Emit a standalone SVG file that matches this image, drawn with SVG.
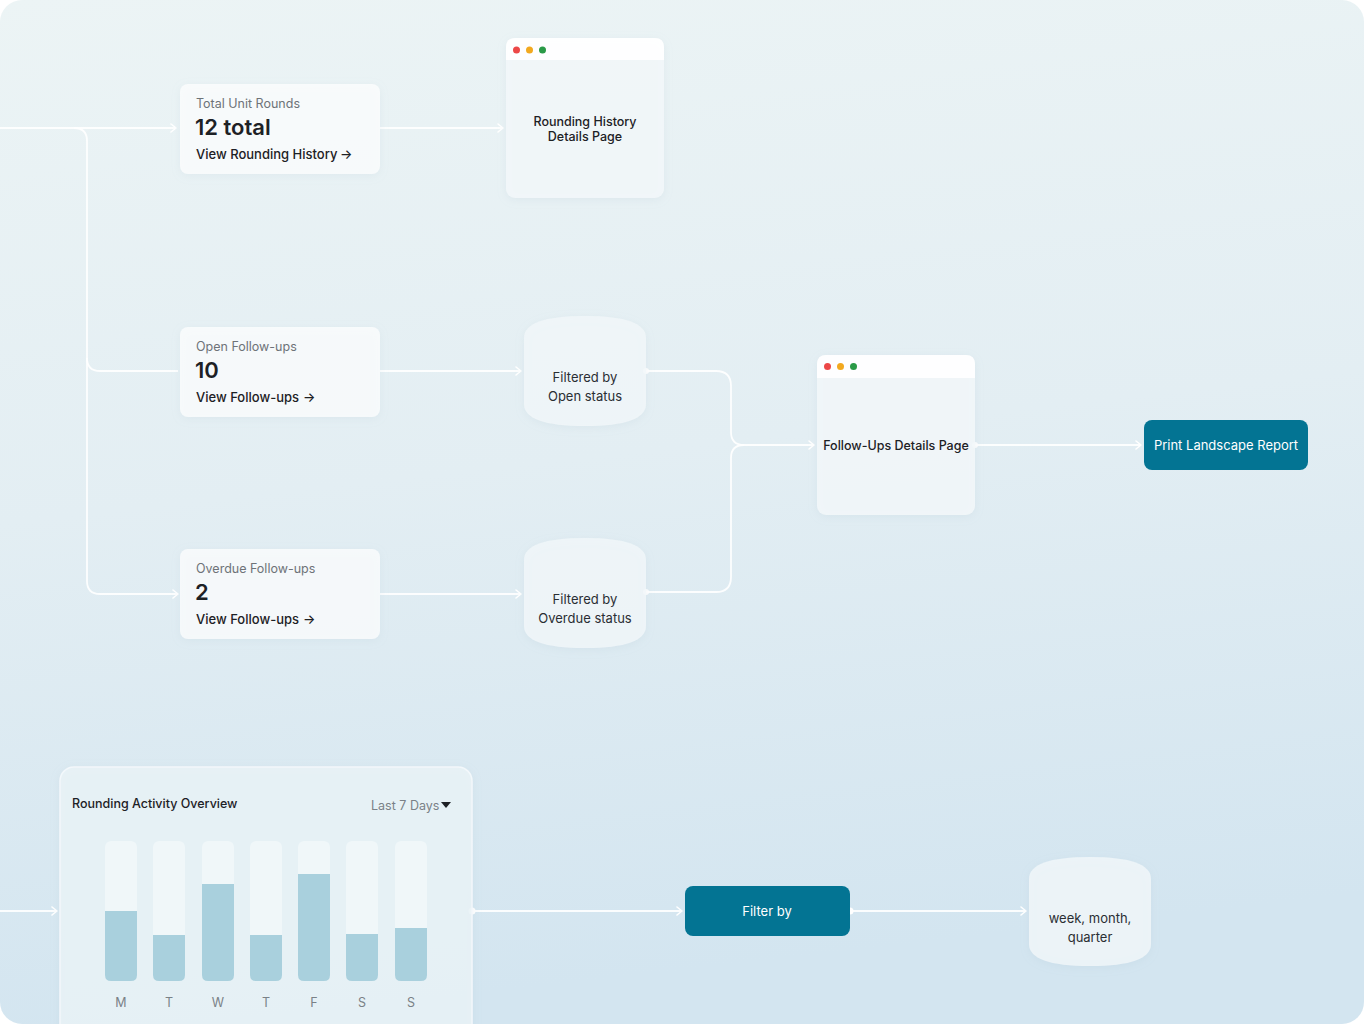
<svg xmlns="http://www.w3.org/2000/svg" width="1364" height="1024" viewBox="0 0 1364 1024">
<defs>
<linearGradient id="bg" x1="0" y1="0" x2="0.15" y2="1">
<stop offset="0" stop-color="#ecf4f5"/>
<stop offset="0.5" stop-color="#e3eef3"/>
<stop offset="1" stop-color="#d3e5f0"/>
</linearGradient>
<filter id="sh" x="-20%" y="-20%" width="140%" height="150%">
<feDropShadow dx="0" dy="2" stdDeviation="4" flood-color="#9fb8c6" flood-opacity="0.18"/>
</filter>
<marker id="arr" markerWidth="10" markerHeight="10" refX="7" refY="5" orient="auto" markerUnits="userSpaceOnUse">
<path d="M2,1 L7,5 L2,9" fill="none" stroke="#ffffff" stroke-width="1.6" stroke-linecap="round" stroke-linejoin="round"/>
</marker>
</defs>
<style>
text{font-family:Inter,"Noto Sans","Liberation Sans",sans-serif;}
.conn{fill:none;stroke:#ffffff;stroke-opacity:0.9;stroke-width:1.8;}
.card{fill:#ffffff;fill-opacity:0.72;filter:url(#sh);}
.lbl{font-size:12.5px;fill:#6e7378;}
.big{font-size:22px;font-weight:600;fill:#1d2125;}
.link{font-size:13px;font-weight:500;fill:#1d2125;}
.ar{font-size:13px;fill:#1d2125;}
.win{fill:#f3f8fa;fill-opacity:0.85;filter:url(#sh);}
.winhead{fill:#ffffff;fill-opacity:0.9;}
.wt{font-size:12.5px;font-weight:500;fill:#1d2125;text-anchor:middle;}
.cyl{fill:#f3f8fa;fill-opacity:0.8;filter:url(#sh);}
.ct{font-size:13px;fill:#2a2e33;text-anchor:middle;}
.btn{fill:#037493;}
.bt{font-size:13px;fill:#ffffff;text-anchor:middle;}
.track{fill:#f1f7fa;fill-opacity:0.9;}
.bar{fill:#a9d0dd;}
.day{font-size:12.5px;fill:#7a8187;text-anchor:middle;}
</style>
<rect x="0" y="0" width="1364" height="1024" fill="#ffffff"/>
<rect x="0" y="0" width="1364" height="1024" rx="22" fill="url(#bg)"/>

<g id="connectors">
<path class="conn" d="M0,128 H176" marker-end="url(#arr)"/>
<path class="conn" d="M74,128 Q87,128 87,141 V581 Q87,594 100,594 H178" marker-end="url(#arr)"/>
<path class="conn" d="M87,358 Q87,371 100,371 H178"/>
<path class="conn" d="M380,128 H503" marker-end="url(#arr)"/>
<path class="conn" d="M380,371 H521" marker-end="url(#arr)"/>
<path class="conn" d="M380,594 H521" marker-end="url(#arr)"/>
<path class="conn" d="M646,371 H716 Q731,371 731,386 V432 Q731,445 744,445 H814" marker-end="url(#arr)"/>
<path class="conn" d="M646,592 H716 Q731,592 731,577 V458 Q731,445 744,445"/>
<path class="conn" d="M975,445 H1141" marker-end="url(#arr)"/>
<path class="conn" d="M0,911 H57" marker-end="url(#arr)"/>
<path class="conn" d="M472,911 H682" marker-end="url(#arr)"/>
<path class="conn" d="M850,911 H1026" marker-end="url(#arr)"/>
<circle cx="472" cy="911" r="3.5" fill="#ffffff"/>
<circle cx="850" cy="911" r="3.5" fill="#ffffff"/>
<circle cx="646" cy="371" r="3" fill="#ffffff" fill-opacity="0.9"/>
<circle cx="646" cy="592" r="3" fill="#ffffff" fill-opacity="0.9"/>
<circle cx="975" cy="445" r="3" fill="#ffffff" fill-opacity="0.9"/>
</g>

<g id="card-total">
<rect class="card" x="180" y="84" width="200" height="90" rx="8"/>
<text class="lbl" x="196" y="108">Total Unit Rounds</text>
<text class="big" x="195" y="135">12 total</text>
<text class="link" x="196" y="159">View Rounding History <tspan class="ar" x="340">→</tspan></text>
</g>

<g id="win-rounding-history">
<rect class="win" x="506" y="38" width="158" height="160" rx="9"/>
<path class="winhead" d="M506,60 V47 Q506,38 515,38 H655 Q664,38 664,47 V60 Z"/>
<circle cx="516.5" cy="50" r="3.5" fill="#ec4747"/>
<circle cx="529.5" cy="50" r="3.5" fill="#f2a91f"/>
<circle cx="542.5" cy="50" r="3.5" fill="#2a9a47"/>
<text class="wt" x="585" y="126">Rounding History</text>
<text class="wt" x="585" y="141">Details Page</text>
</g>

<g id="card-open">
<rect class="card" x="180" y="327" width="200" height="90" rx="8"/>
<text class="lbl" x="196" y="351">Open Follow-ups</text>
<text class="big" x="195" y="378">10</text>
<text class="link" x="196" y="402">View Follow-ups <tspan class="ar" x="303">→</tspan></text>
</g>

<g id="cyl-open">
<path class="cyl" d="M524,338 Q524,316 585,316 Q646,316 646,338 V404 Q646,426 585,426 Q524,426 524,404 Z"/>
<text class="ct" x="585" y="382">Filtered by</text>
<text class="ct" x="585" y="401">Open status</text>
</g>

<g id="card-overdue">
<rect class="card" x="180" y="549" width="200" height="90" rx="8"/>
<text class="lbl" x="196" y="573">Overdue Follow-ups</text>
<text class="big" x="195" y="600">2</text>
<text class="link" x="196" y="624">View Follow-ups <tspan class="ar" x="303">→</tspan></text>
</g>

<g id="cyl-overdue">
<path class="cyl" d="M524,560 Q524,538 585,538 Q646,538 646,560 V626 Q646,648 585,648 Q524,648 524,626 Z"/>
<text class="ct" x="585" y="604">Filtered by</text>
<text class="ct" x="585" y="623">Overdue status</text>
</g>

<g id="win-followups">
<rect class="win" x="817" y="355" width="158" height="160" rx="9"/>
<path class="winhead" d="M817,378 V364 Q817,355 826,355 H966 Q975,355 975,364 V378 Z"/>
<circle cx="827.5" cy="366.5" r="3.5" fill="#ec4747"/>
<circle cx="840.5" cy="366.5" r="3.5" fill="#f2a91f"/>
<circle cx="853.5" cy="366.5" r="3.5" fill="#2a9a47"/>
<text class="wt" x="896" y="450">Follow-Ups Details Page</text>
</g>

<g id="btn-print">
<rect class="btn" x="1144" y="420" width="164" height="50" rx="8"/>
<text class="bt" x="1226" y="450">Print Landscape Report</text>
</g>

<g id="chart">
<rect x="60" y="767" width="412" height="280" rx="14" fill="#eaf3f7" fill-opacity="0.85" stroke="#f3f8fb" stroke-width="1.5" filter="url(#sh)"/>
<text x="72" y="808" style="font-size:12.5px;font-weight:500;fill:#1d2125">Rounding Activity Overview</text>
<text x="371" y="810" style="font-size:12.5px;fill:#7a8187">Last 7 Days</text>
<path d="M441,802 H451 L446,808 Z" fill="#1d2125"/>
<rect class="track" x="105" y="841" width="32" height="140" rx="6"/>
<rect class="track" x="153" y="841" width="32" height="140" rx="6"/>
<rect class="track" x="202" y="841" width="32" height="140" rx="6"/>
<rect class="track" x="250" y="841" width="32" height="140" rx="6"/>
<rect class="track" x="298" y="841" width="32" height="140" rx="6"/>
<rect class="track" x="346" y="841" width="32" height="140" rx="6"/>
<rect class="track" x="395" y="841" width="32" height="140" rx="6"/>
<path class="bar" d="M105,911 H137 V975 Q137,981 131,981 H111 Q105,981 105,975 Z"/>
<path class="bar" d="M153,935 H185 V975 Q185,981 179,981 H159 Q153,981 153,975 Z"/>
<path class="bar" d="M202,884 H234 V975 Q234,981 228,981 H208 Q202,981 202,975 Z"/>
<path class="bar" d="M250,935 H282 V975 Q282,981 276,981 H256 Q250,981 250,975 Z"/>
<path class="bar" d="M298,874 H330 V975 Q330,981 324,981 H304 Q298,981 298,975 Z"/>
<path class="bar" d="M346,934 H378 V975 Q378,981 372,981 H352 Q346,981 346,975 Z"/>
<path class="bar" d="M395,928 H427 V975 Q427,981 421,981 H401 Q395,981 395,975 Z"/>
<text class="day" x="121" y="1007">M</text>
<text class="day" x="169" y="1007">T</text>
<text class="day" x="218" y="1007">W</text>
<text class="day" x="266" y="1007">T</text>
<text class="day" x="314" y="1007">F</text>
<text class="day" x="362" y="1007">S</text>
<text class="day" x="411" y="1007">S</text>
</g>

<g id="btn-filter">
<rect class="btn" x="685" y="886" width="165" height="50" rx="8"/>
<text class="bt" x="767" y="916">Filter by</text>
</g>

<g id="cyl-period">
<path class="cyl" d="M1029,879 Q1029,857 1090,857 Q1151,857 1151,879 V944 Q1151,966 1090,966 Q1029,966 1029,944 Z"/>
<text class="ct" x="1090" y="923">week, month,</text>
<text class="ct" x="1090" y="942">quarter</text>
</g>
</svg>
